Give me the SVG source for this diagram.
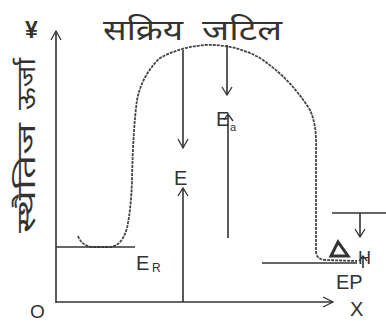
<svg xmlns="http://www.w3.org/2000/svg" width="386" height="323" viewBox="0 0 386 323">
<defs>
<style>
.ln{stroke:#333;stroke-width:1.6;fill:none}
.cv{stroke:#444;stroke-width:1.8;fill:none;stroke-dasharray:3 1}
.ah{stroke:#333;stroke-width:1.3;fill:none}
.t{font-family:"Liberation Sans",Arial,sans-serif;fill:#333}
.d{font-family:"Noto Sans Devanagari","Noto Sans","Lohit Devanagari",sans-serif;fill:#333}
</style>
</defs>
<rect width="386" height="323" fill="#fff"/>
<g id="axes">
<line class="ln" x1="56" y1="31" x2="56" y2="303"/>
<polyline class="ah" points="51,40 56,31 61,40"/>
<line class="ln" x1="56" y1="302" x2="333" y2="302"/>
<polyline class="ah" points="323,297 333,302 323,307"/>
<text class="t" x="30" y="318" font-size="19">O</text>
<text class="t" x="350" y="316" font-size="20">X</text>
<text class="t" x="25" y="38" font-size="23" font-weight="bold">¥</text>
<g transform="translate(35,0) rotate(-90)">
<text class="d" x="-233" y="0" font-size="25" textLength="110" lengthAdjust="spacingAndGlyphs">स्थैतिज</text>
<text class="d" x="-110" y="0" font-size="25" textLength="52" lengthAdjust="spacingAndGlyphs">ऊर्जा</text>
</g>
</g>
<g id="title">
<text class="d" x="103" y="40" font-size="29" textLength="80" lengthAdjust="spacingAndGlyphs">सक्रिय</text>
<text class="d" x="202" y="40" font-size="29" textLength="80" lengthAdjust="spacingAndGlyphs">जटिल</text>
</g>
<g id="curve">
<path class="cv" d="M78,236 Q82,246 92,247 L110,247 Q122,246 127,228 Q131,210 132,180 Q133,130 137,100 Q142,75 160,58 Q180,47 205,45 Q235,44 260,58 Q290,78 310,110 Q317,125 316,150 L316,252 Q317,260 326,260 L357,261"/>
</g>
<g id="ER">
<line class="ln" x1="56" y1="247" x2="135" y2="247"/>
<text class="t" x="136" y="270" font-size="20">E</text>
<text class="t" x="152" y="272" font-size="12">R</text>
</g>
<g id="E">
<line class="ln" x1="183" y1="50" x2="183" y2="148"/>
<polyline class="ah" points="178,139 183,148 188,139"/>
<line class="ln" x1="183" y1="188" x2="183" y2="302"/>
<polyline class="ah" points="178,196 183,188 188,196"/>
<text class="t" x="174" y="185" font-size="20">E</text>
</g>
<g id="Ea">
<line class="ln" x1="227" y1="45" x2="227" y2="95"/>
<polyline class="ah" points="222,87 227,95 232,87"/>
<line class="ln" x1="228" y1="114" x2="228" y2="238"/>
<polyline class="ah" points="224,120 228,114 233,121"/>
<text class="t" x="216" y="126" font-size="20">E</text>
<text class="t" x="230" y="131" font-size="11">a</text>
</g>
<g id="EP">
<line class="ln" x1="262" y1="263" x2="357" y2="263"/>
<text class="t" x="336" y="289" font-size="20">EP</text>
</g>
<g id="dH">
<line class="ln" x1="332" y1="213" x2="386" y2="213"/>
<line class="ln" x1="360" y1="213" x2="360" y2="237"/>
<polyline class="ah" points="355,229 360,237 365,229"/>
<polygon points="338,242 331,256 348,256" fill="none" stroke="#333" stroke-width="3"/>
<line class="ln" x1="363" y1="256" x2="363" y2="268"/>
<polyline class="ah" points="359,261 363,256 367,261"/>
<text class="t" x="358" y="264" font-size="18">H</text>
</g>
</svg>
